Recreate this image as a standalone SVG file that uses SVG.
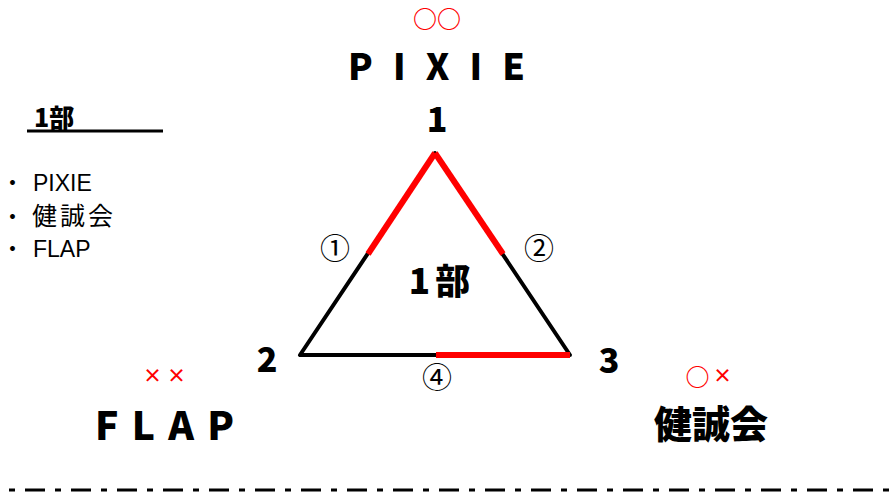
<svg xmlns="http://www.w3.org/2000/svg" width="890" height="492" viewBox="0 0 890 492">
<style>
.heavy{font-family:"Noto Sans CJK JP","Noto Sans",sans-serif;font-weight:900;fill:#000}
.mark{font-family:"Noto Sans CJK JP","Noto Sans",sans-serif;fill:#ff0000;text-anchor:middle;font-weight:bold}
.num{font-family:"Noto Sans CJK JP","Noto Sans",sans-serif;font-weight:900;fill:#000;text-anchor:middle;font-size:34px}
.list{font-family:"Liberation Sans","Noto Sans CJK JP",sans-serif;fill:#000}
.edge{font-family:"Noto Sans CJK JP",sans-serif;fill:#000;text-anchor:middle;font-size:30px}
.blk{stroke:#000;stroke-width:4;fill:none;stroke-linecap:round;stroke-linejoin:round}
.red{stroke:#ff0000;stroke-width:6;fill:none}
</style>
<rect width="890" height="492" fill="#fff"/>

<g id="legend">
  <text class="heavy" x="34" y="127" font-size="25">1部</text>
  <line x1="27" y1="131" x2="163" y2="131" stroke="#000" stroke-width="3"/>
  <text class="list" font-size="23"><tspan x="1" y="191" font-family="Noto Sans CJK JP">・</tspan><tspan x="33" y="191">PIXIE</tspan></text>
  <text class="list" font-size="25"><tspan x="1" y="225" font-size="23" font-family="Noto Sans CJK JP">・</tspan><tspan x="32" y="225" font-family="Noto Sans CJK JP" letter-spacing="3">健誠会</tspan></text>
  <text class="list" font-size="23"><tspan x="1" y="257" font-family="Noto Sans CJK JP">・</tspan><tspan x="33" y="257">FLAP</tspan></text>
</g>

<g id="connectors">
  <polygon class="blk" points="435,153 300,355 570,355"/>
  <line class="red" x1="435" y1="153" x2="368" y2="254"/>
  <line class="red" x1="435" y1="153" x2="503" y2="254"/>
  <line class="red" x1="436" y1="355" x2="570" y2="355" stroke-width="7"/>
  <text class="edge" x="335" y="259">①</text>
  <text class="edge" x="539" y="259">②</text>
  <text class="edge" x="437" y="388">④</text>
</g>

<g id="center-label">
  <text class="heavy" x="442" y="294" font-size="35" text-anchor="middle" letter-spacing="5">1部</text>
</g>

<g id="node-pixie">
  <text class="mark" x="437" y="28" font-size="24">○○</text>
  <text class="heavy" x="348" y="80" font-size="36" textLength="177" lengthAdjust="spacing">PIXIE</text>
  <text class="num" x="437" y="132">1</text>
</g>

<g id="node-flap">
  <text class="mark" x="152.5 176.5" y="383" font-size="19">××</text>
  <text class="heavy" x="95" y="440" font-size="39" textLength="139" lengthAdjust="spacing">FLAP</text>
  <text class="num" x="267" y="372">2</text>
</g>

<g id="node-kenseikai">
  <text class="mark" x="697.5" y="386" font-size="24">○</text>
  <text class="mark" x="722.5" y="383" font-size="19">×</text>
  <text class="heavy" x="711" y="438" font-size="38" text-anchor="middle">健誠会</text>
  <text class="num" x="609" y="373">3</text>
</g>

<line x1="-21" y1="490" x2="890" y2="490" stroke="#000" stroke-width="3" stroke-dasharray="20,10,6,10"/>
</svg>
